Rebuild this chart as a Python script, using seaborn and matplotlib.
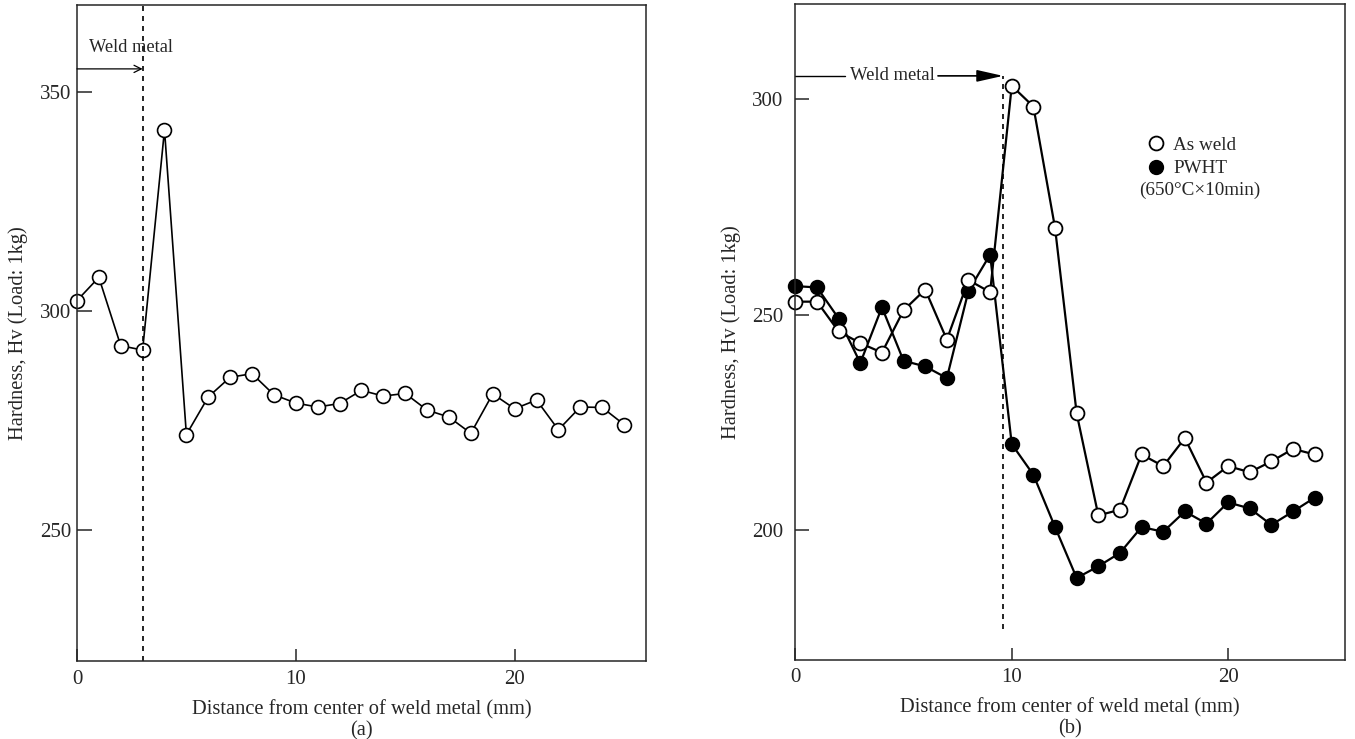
import matplotlib
matplotlib.use("Agg")
import matplotlib.pyplot as plt
import seaborn as sns
import pandas as pd
from matplotlib.lines import Line2D

# panel (a): single weld, 0..25 mm
dist_a = list(range(26))
hv_a = [302.4, 307.7, 292.1, 291.1, 341.4, 271.8, 280.4, 284.9, 285.7, 280.9,
        279.0, 278.1, 278.9, 281.9, 280.6, 281.2, 277.4, 275.8, 272.1, 281.1,
        277.7, 279.7, 272.9, 278.1, 278.0, 274.1]

# panel (b): as weld vs PWHT, 0..24 mm
dist_b = list(range(25))
hv_as_weld = [253.0, 253.0, 246.1, 243.4, 241.2, 251.0, 255.8, 244.2, 258.0, 255.2,
              303.0, 298.2, 270.1, 227.1, 203.5, 204.8, 217.6, 214.9, 221.4, 211.1,
              214.9, 213.5, 216.0, 218.9, 217.6]
hv_pwht = [256.6, 256.3, 249.1, 238.8, 251.7, 239.3, 238.0, 235.3, 255.5, 263.9,
           220.0, 212.9, 200.8, 189.0, 191.7, 194.8, 200.8, 199.7, 204.4, 201.6,
           206.5, 205.1, 201.3, 204.4, 207.6]

sns.set_style("ticks")
plt.rcParams["font.family"] = ["Liberation Serif", "DejaVu Serif"]
plt.rcParams["font.size"] = 13
plt.rcParams["axes.linewidth"] = 1.1

df_a = pd.DataFrame({"x": dist_a, "hv": hv_a})
df_b = pd.DataFrame({"x": dist_b, "as_weld": hv_as_weld, "pwht": hv_pwht})

fig = plt.figure(figsize=(13.55, 7.39), dpi=100)
ax1 = fig.add_axes([0.0568, 0.1049, 0.4199, 0.8890])
ax2 = fig.add_axes([0.5870, 0.1069, 0.4056, 0.8880])

xlabel = "Distance from center of weld metal (mm)"
ylabel = "Hardness, Hv (Load: 1kg)"
lab_fs = 14.8
tick_fs = 15

# ---- (a)
sns.lineplot(data=df_a, x="x", y="hv", ax=ax1, color="black", lw=1.2,
             marker="o", ms=10, mfc="white", mec="black", mew=1.2, clip_on=False)
ax1.axvline(3, color="black", lw=1.2, ls=(0, (3, 3)))
ax1.annotate("", xy=(3, 355.3), xytext=(0, 355.3),
             arrowprops=dict(arrowstyle="->", lw=0.9, color="black",
                             shrinkA=0, shrinkB=0))
ax1.text(0.55, 360.1, "Weld metal", va="center", ha="left", fontsize=13.2)
ax1.set_xlim(0, 26)
ax1.set_ylim(220, 370)
ax1.set_xticks([0, 10, 20])
ax1.set_yticks([250, 300, 350])
ax1.tick_params(axis="y", direction="in", length=11, width=1.1, pad=4,
                labelsize=tick_fs)
ax1.tick_params(axis="x", direction="in", length=9, width=1.1, pad=6,
                labelsize=tick_fs)
ax1.set_xlabel(xlabel + "\n(a)", labelpad=8, linespacing=1.12, fontsize=lab_fs)
ax1.set_ylabel(ylabel, labelpad=9, fontsize=lab_fs)

# ---- (b)
sns.lineplot(data=df_b, x="x", y="pwht", ax=ax2, color="black", lw=1.6,
             marker="o", ms=10, mfc="black", mec="black", mew=1.1, clip_on=False)
sns.lineplot(data=df_b, x="x", y="as_weld", ax=ax2, color="black", lw=1.6,
             marker="o", ms=10, mfc="white", mec="black", mew=1.3, clip_on=False)
ax2.vlines(9.6, 177.2, 305.3, color="black", lw=1.2, ls=(0, (3, 3)))
ax2.plot([0, 2.29], [305.3, 305.3], color="black", lw=1.0)
ax2.text(2.52, 305.3, "Weld metal", va="center", ha="left", fontsize=13.4)
ax2.annotate("", xy=(9.6, 305.3), xytext=(6.59, 305.3),
             arrowprops=dict(arrowstyle="-|>,head_length=1.6,head_width=0.36",
                             lw=1.2, color="black", mutation_scale=10,
                             shrinkA=0, shrinkB=0))
ax2.set_xlim(0, 25.4)
ax2.set_ylim(170, 322)
ax2.set_xticks([0, 10, 20])
ax2.set_yticks([200, 250, 300])
ax2.tick_params(axis="y", direction="in", length=10, width=1.1, pad=9,
                labelsize=tick_fs)
ax2.tick_params(axis="x", direction="in", length=9, width=1.1, pad=6,
                labelsize=tick_fs)
ax2.set_xlabel(xlabel + "\n(b)", labelpad=8, linespacing=1.12, fontsize=lab_fs)
ax2.set_ylabel(ylabel, labelpad=8, fontsize=lab_fs)

handles = [
    Line2D([], [], ls="none", marker="o", ms=10, mfc="white", mec="black", mew=1.3),
    Line2D([], [], ls="none", marker="o", ms=10, mfc="black", mec="black"),
]
ax2.legend(handles, ["As weld", "PWHT"], loc="upper left",
           bbox_to_anchor=(0.621, 0.812), frameon=False, borderpad=0,
           handlelength=1.0, handletextpad=0.4, labelspacing=0.3,
           fontsize=13.8)
ax2.text(15.87, 278.9, "(650°C×10min)", va="center", ha="left", fontsize=13.8)

fig.savefig("out.png", dpi=100)
